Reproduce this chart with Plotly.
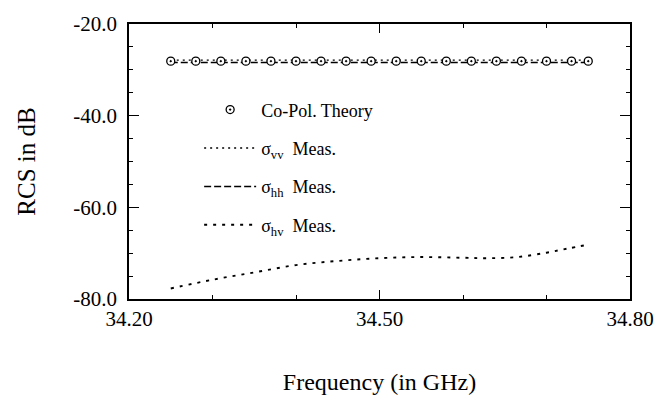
import plotly.graph_objects as go

# ---- data ----
theory_freq = [34.25, 34.28, 34.31, 34.34, 34.37, 34.40, 34.43, 34.46, 34.49,
               34.52, 34.55, 34.58, 34.61, 34.64, 34.67, 34.70, 34.73, 34.75]
theory_rcs = [-28.1] * len(theory_freq)

vv_freq = [34.25, 34.35, 34.45, 34.55, 34.65, 34.75]
vv_rcs = [-27.9, -27.9, -27.9, -27.9, -27.9, -27.9]

hh_freq = [34.25, 34.35, 34.45, 34.55, 34.65, 34.75]
hh_rcs = [-28.4, -28.4, -28.4, -28.4, -28.4, -28.4]

hv_freq = [34.25, 34.30, 34.35, 34.40, 34.45, 34.50, 34.55, 34.60, 34.63,
           34.665, 34.70, 34.725, 34.75]
hv_rcs = [-77.7, -75.8, -74.2, -72.6, -71.7, -71.1, -70.85, -71.0, -71.1,
          -70.85, -69.9, -69.0, -68.15]

x_ticks = [34.20, 34.50, 34.80]
y_ticks = [-80.0, -60.0, -40.0, -20.0]

FONT = "Liberation Serif"

fig = go.Figure()
fig.add_trace(go.Scatter(
    x=vv_freq, y=vv_rcs, mode="lines", name="σ<sub>vv</sub>  Meas.",
    line=dict(color="black", width=1.3, dash="2px,4px"),
    legendgroup="b", legendrank=2))
fig.add_trace(go.Scatter(
    x=hh_freq, y=hh_rcs, mode="lines", name="σ<sub>hh</sub>  Meas.",
    line=dict(color="black", width=1.5, dash="7px,3px"),
    legendgroup="c", legendrank=3))
fig.add_trace(go.Scatter(
    x=hv_freq, y=hv_rcs, mode="lines", name="σ<sub>hv</sub>  Meas.",
    line=dict(color="black", width=1.9, dash="3px,6px", shape="spline"),
    legendgroup="d", legendrank=4))
fig.add_trace(go.Scatter(
    x=theory_freq, y=theory_rcs, mode="markers", name="Co-Pol. Theory",
    marker=dict(symbol="circle-dot", size=8, color="white",
                line=dict(color="black", width=1.3)),
    legendgroup="a", legendrank=1))

fig.update_layout(
    width=666, height=403,
    margin=dict(l=129, r=32, t=17, b=104),
    paper_bgcolor="white", plot_bgcolor="white",
    font=dict(family=FONT, color="black", size=18),
    showlegend=True,
    legend=dict(
        x=0.14, y=0.755, xanchor="left", yanchor="top",
        font=dict(family=FONT, size=18, color="black"),
        bgcolor="rgba(0,0,0,0)", tracegroupgap=12, traceorder="grouped",
        itemwidth=52),
    xaxis=dict(
        range=[34.2, 34.8], tickvals=x_ticks,
        ticktext=[f"{v:.2f}" for v in x_ticks],
        ticks="inside", ticklen=9, tickwidth=1.3, tickcolor="black",
        showline=True, linecolor="black", linewidth=1.6, mirror="ticks",
        showgrid=False, zeroline=False,
        minor=dict(dtick=0.1, tick0=34.2, ticks="inside", ticklen=4,
                   tickwidth=1.1, tickcolor="black", showgrid=False),
        tickfont=dict(family=FONT, size=21, color="black"),
        title=dict(text="Frequency (in GHz)",
                   font=dict(family=FONT, size=24, color="black"),
                   standoff=43)),
    yaxis=dict(
        range=[-80, -20], tickvals=y_ticks,
        ticktext=[f"{v:.1f}" for v in y_ticks],
        ticks="inside", ticklen=10, tickwidth=1.3, tickcolor="black",
        showline=True, linecolor="black", linewidth=1.6, mirror="ticks",
        showgrid=False, zeroline=False,
        minor=dict(dtick=5, tick0=-80, ticks="inside", ticklen=4,
                   tickwidth=1.1, tickcolor="black", showgrid=False),
        tickfont=dict(family=FONT, size=21, color="black"),
        ticklabelstandoff=6,
        title=dict(text="RCS in dB",
                   font=dict(family=FONT, size=25, color="black"),
                   standoff=31)),
)

fig.write_html("out.html")
